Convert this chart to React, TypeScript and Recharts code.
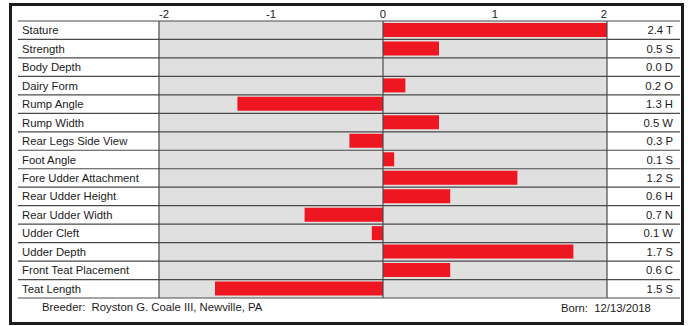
import {
  Bar,
  BarChart,
  CartesianGrid,
  ReferenceLine,
  XAxis,
  YAxis,
} from "recharts";

const traits = [
  "Stature",
  "Strength",
  "Body Depth",
  "Dairy Form",
  "Rump Angle",
  "Rump Width",
  "Rear Legs Side View",
  "Foot Angle",
  "Fore Udder Attachment",
  "Rear Udder Height",
  "Rear Udder Width",
  "Udder Cleft",
  "Udder Depth",
  "Front Teat Placement",
  "Teat Length",
];
const scores = [2.4, 0.5, 0.0, 0.2, -1.3, 0.5, -0.3, 0.1, 1.2, 0.6, -0.7, -0.1, 1.7, 0.6, -1.5];
const codes = ["T", "S", "D", "O", "H", "W", "P", "S", "S", "H", "N", "W", "S", "C", "S"];
const xTicks = [-2, -1, 0, 1, 2];

const FONT = "'Liberation Sans', Arial, sans-serif";
const FS = 11.3;
const RED = "#ee1620";
const LINE = "#4a4a4a";
const INK = "#1c1c1c";

const data = traits.map((name, i) => ({
  name,
  score: scores[i],
  label: `${Math.abs(scores[i]).toFixed(1)} ${codes[i]}`,
}));

const TraitTick = ({ y, payload }: any) => (
  <text x={22} y={y} dy={4} fontSize={FS} fontFamily={FONT} fill={INK}>
    {payload.value}
  </text>
);

const ScoreTick = ({ y, payload }: any) => (
  <text x={673} y={y} dy={4} textAnchor="end" fontSize={FS} fontFamily={FONT} fill={INK}>
    {payload.value}
  </text>
);

const TopTick = ({ x, y, payload }: any) => {
  const anchor = payload.value === -2 ? "start" : payload.value === 2 ? "end" : "middle";
  return (
    <text x={x} y={y} textAnchor={anchor} fontSize={FS} fontFamily={FONT} fill={INK}>
      {payload.value}
    </text>
  );
};

export default function App() {
  const n = traits.length;
  return (
    <div
      style={{
        position: "absolute",
        left: 0,
        top: 0,
        width: 688,
        height: 326,
        background: "#fff",
        fontFamily: FONT,
      }}
    >
      <div
        style={{
          position: "absolute",
          left: 9,
          top: 3,
          width: 675,
          height: 322,
          border: "3px solid #1c1c1c",
          boxSizing: "border-box",
        }}
      />
      <div style={{ position: "absolute", left: 0, top: 0 }}>
        <BarChart
          width={688}
          height={326}
          data={data}
          layout="vertical"
          margin={{ top: 0, right: 0, bottom: 28, left: 0 }}
        >
          {/* grey plot background */}
          <CartesianGrid
            yAxisId="traits"
            horizontal={false}
            vertical={false}
            fill="#e0e0e0"
            fillOpacity={1}
          />
          {/* row separators spanning the whole table */}
          <CartesianGrid
            yAxisId="traits"
            x={18}
            width={662}
            vertical={false}
            stroke={LINE}
            strokeWidth={1.2}
            horizontalCoordinatesGenerator={({ offset }: any) =>
              Array.from({ length: n + 1 }, (_, i) => offset.top + (i * offset.height) / n)
            }
          />
          <XAxis
            type="number"
            orientation="top"
            domain={[-2, 2]}
            ticks={xTicks}
            allowDataOverflow
            height={21}
            axisLine={false}
            tickLine={false}
            tickSize={0}
            tickMargin={3}
            tick={<TopTick />}
          />
          <YAxis
            yAxisId="traits"
            type="category"
            dataKey="name"
            width={159}
            axisLine={false}
            tickLine={false}
            interval={0}
            tick={<TraitTick />}
          />
          <YAxis
            yAxisId="scores"
            orientation="right"
            type="category"
            dataKey="label"
            width={81}
            axisLine={false}
            tickLine={false}
            interval={0}
            tick={<ScoreTick />}
          />
          <ReferenceLine yAxisId="traits" x={-2} stroke={LINE} strokeWidth={1.2} />
          <ReferenceLine yAxisId="traits" x={2} stroke={LINE} strokeWidth={1.2} />
          <Bar
            yAxisId="traits"
            dataKey="score"
            fill={RED}
            barSize={14}
            isAnimationActive={false}
          />
          <ReferenceLine yAxisId="traits" x={0} stroke={LINE} strokeWidth={1.2} />
        </BarChart>
      </div>
      <div
        style={{
          position: "absolute",
          left: 42,
          top: 301,
          fontSize: FS,
          color: INK,
          whiteSpace: "pre",
        }}
      >
        {"Breeder:  Royston G. Coale III, Newville, PA"}
      </div>
      <div
        style={{
          position: "absolute",
          left: 561,
          top: 302,
          fontSize: FS,
          color: INK,
          whiteSpace: "pre",
        }}
      >
        {"Born:  12/13/2018"}
      </div>
    </div>
  );
}
